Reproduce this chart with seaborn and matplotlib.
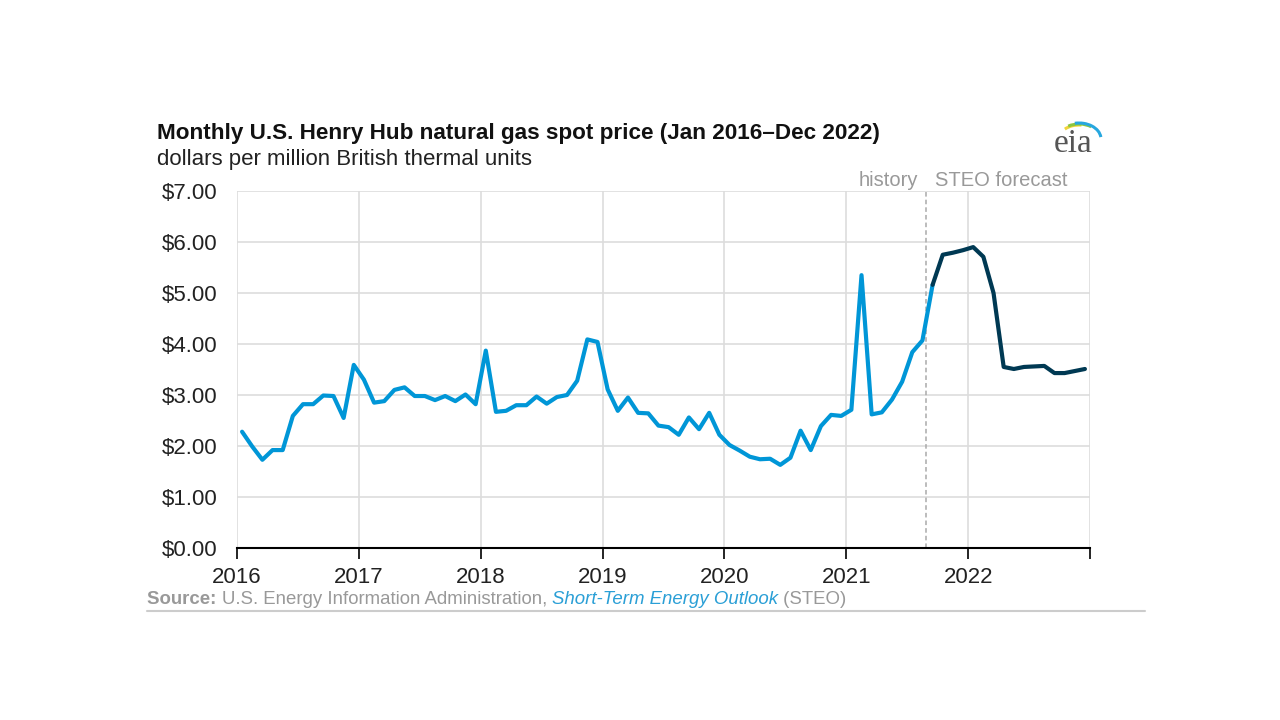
import numpy as np
import pandas as pd
import matplotlib.pyplot as plt
import seaborn as sns
from matplotlib.patches import Arc

# monthly Henry Hub spot price, $/MMBtu
hist_2016 = [2.28, 1.99, 1.73, 1.92, 1.92, 2.59, 2.82, 2.82, 2.99, 2.98, 2.55, 3.59]
hist_2017 = [3.30, 2.85, 2.88, 3.10, 3.15, 2.98, 2.98, 2.90, 2.98, 2.88, 3.01, 2.82]
hist_2018 = [3.87, 2.67, 2.69, 2.80, 2.80, 2.97, 2.83, 2.96, 3.00, 3.28, 4.09, 4.04]
hist_2019 = [3.11, 2.69, 2.95, 2.65, 2.64, 2.40, 2.37, 2.22, 2.56, 2.33, 2.65, 2.22]
hist_2020 = [2.02, 1.91, 1.79, 1.74, 1.75, 1.63, 1.77, 2.30, 1.92, 2.39, 2.61, 2.59]
hist_2021 = [2.71, 5.35, 2.62, 2.66, 2.91, 3.26, 3.84, 4.07, 5.16]
# STEO forecast Oct 2021 - Dec 2022
fcst_2021 = [5.75, 5.79, 5.84]
fcst_2022 = [5.90, 5.71, 5.00, 3.55, 3.51, 3.55, 3.56, 3.57, 3.43, 3.43, 3.47, 3.51]

year_ticks = [2016, 2017, 2018, 2019, 2020, 2021, 2022, 2023]
year_labels = ['2016', '2017', '2018', '2019', '2020', '2021', '2022', '']
y_ticks = [0, 1, 2, 3, 4, 5, 6, 7]

history = hist_2016 + hist_2017 + hist_2018 + hist_2019 + hist_2020 + hist_2021
forecast = [history[-1]] + fcst_2021 + fcst_2022

x_hist = 2016 + (np.arange(len(history)) + 0.5) / 12
x_fcst = x_hist[-1] + np.arange(len(forecast)) / 12

df = pd.concat([
    pd.DataFrame({'x': x_hist, 'price': history, 'seg': 'history'}),
    pd.DataFrame({'x': x_fcst, 'price': forecast, 'seg': 'forecast'}),
])

sns.set_style('white')
plt.rcParams['font.family'] = ['Liberation Sans', 'DejaVu Sans']

fig = plt.figure(figsize=(12.8, 7.2), dpi=100)
ax = fig.add_axes([237 / 1280, 1 - 548 / 720, (1090 - 237) / 1280, (548 - 191) / 720])

sns.lineplot(data=df, x='x', y='price', hue='seg',
             palette={'history': '#0096d7', 'forecast': '#003953'},
             linewidth=3.0, legend=False, ax=ax, sort=False)

ax.set_xlim(2016, 2023)
ax.set_ylim(0, 7)
ax.set_xticks(year_ticks)
ax.set_xticklabels(year_labels)
ax.set_yticks(y_ticks)
ax.set_yticklabels([f'${v:.2f}' for v in y_ticks])
ax.tick_params(axis='both', labelsize=16, colors='#222222', pad=6)
ax.tick_params(axis='x', length=8, width=1.2, color='black', direction='out', bottom=True)
ax.tick_params(axis='y', length=0, pad=14)
ax.grid(True, color='#dddddd', linewidth=1.2)
ax.set_axisbelow(True)
for s in ['top', 'right', 'left']:
    ax.spines[s].set_visible(False)
ax.spines['bottom'].set_color('black')
ax.spines['bottom'].set_linewidth(1.5)
ax.set_xlabel('')
ax.set_ylabel('')

# history / forecast divider
split = 2021 + 8 / 12 - 0.01
ax.axvline(split, color='#aaaaaa', linestyle=(0, (3, 2)), linewidth=1.1, zorder=1)
ax.text(split - 0.07, 7.2, 'history', ha='right', va='center', fontsize=14.5, color='#999999')
ax.text(split + 0.07, 7.2, 'STEO forecast', ha='left', va='center', fontsize=14.5, color='#999999')

fig.text(157 / 1280, 1 - 133 / 720, 'Monthly U.S. Henry Hub natural gas spot price (Jan 2016\u2013Dec 2022)',
         fontsize=16.2, fontweight='bold', color='#111111', va='center')
fig.text(157 / 1280, 1 - 160 / 720, 'dollars per million British thermal units',
         fontsize=16, color='#222222', va='center')

# source line, pieces placed one after the other
fig.canvas.draw()
renderer = fig.canvas.get_renderer()
xpos = 147 / 1280
ypos = 1 - 600 / 720
pieces = [('Source: ', 'bold', 'normal', '#999999'),
          ('U.S. Energy Information Administration, ', 'normal', 'normal', '#999999'),
          ('Short-Term Energy Outlook', 'normal', 'italic', '#2a9fd6'),
          (' (STEO)', 'normal', 'normal', '#999999')]
for txt, w, st, c in pieces:
    t = fig.text(xpos, ypos, txt, fontsize=13.4, fontweight=w, fontstyle=st, color=c, va='center')
    bb = t.get_window_extent(renderer)
    xpos += bb.width / 1280
fig.add_artist(plt.Line2D([147 / 1280, 1145 / 1280], [1 - 611 / 720] * 2,
                          color='#cccccc', linewidth=1.5, transform=fig.transFigure))

# eia logo
fig.text(1073 / 1280, 1 - 144 / 720, 'eia', fontsize=24, family='Liberation Serif',
         color='#555555', ha='center', va='center')
logo = fig.add_axes([1050 / 1280, 1 - 142 / 720, 60 / 1280, 30 / 720])
logo.set_xlim(1050, 1110)
logo.set_ylim(720 - 142, 720 - 112)
logo.axis('off')
for col, rx, ry, t0, t1 in [('#f2d43a', 20, 14, 80, 145),
                            ('#8cc63f', 21, 15, 45, 130),
                            ('#27a7df', 22, 16, 5, 105)]:
    logo.add_patch(Arc((1079, 581), 2 * rx, 2 * ry, theta1=t0, theta2=t1,
                       color=col, linewidth=2.2, clip_on=False))

plt.savefig('out.png', dpi=100)
